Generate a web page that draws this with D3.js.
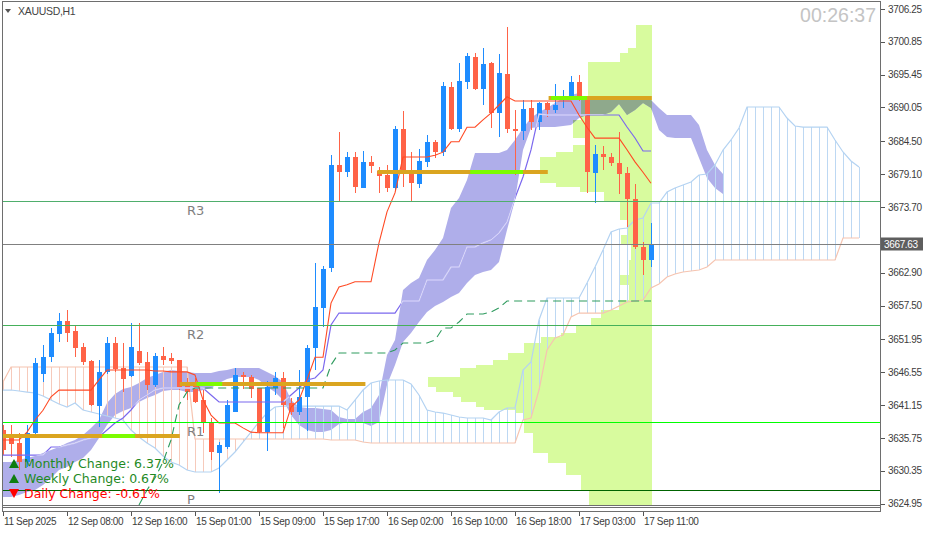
<!DOCTYPE html>
<html><head><meta charset="utf-8">
<script src="https://cdn.jsdelivr.net/npm/d3@7"></script>
<style>html,body{margin:0;padding:0;background:#fff;overflow:hidden}</style>
</head><body>
<svg id="c" width="926" height="533"></svg>
<script>
const symbol = "XAUUSD,H1";
const timer = "00:26:37";
const lastPrice = 3667.63;

const open = [3637.05,3636.07,3634.92,3631.79,3636.56,3646.25,3649.04,3652.82,3654.96,3653.32,
3650.69,3648.39,3640.99,3646.58,3651.35,3647.24,3645.92,3650.03,3648.22,3644.44,
3649.21,3648.88,3648.55,3644.28,3644.77,3641.98,3638.20,3633.27,3634.26,3640.01,
3646.09,3645.76,3643.95,3636.72,3643.95,3645.59,3641.49,3640.01,3642.47,3650.52,
3657.10,3663.67,3680.59,3679.44,3681.90,3676.81,3681.08,3679.60,3678.95,3676.81,
3686.51,3679.28,3677.47,3681.08,3684.37,3682.73,3693.41,3686.51,3694.23,3698.33,
3693.08,3697.35,3689.13,3695.54,3686.51,3686.18,3689.96,3687.66,3690.78,3689.63,
3691.43,3691.76,3694.23,3691.27,3679.28,3682.40,3681.90,3680.92,3679.28,3675.00,
3667.12,3664.98];
const high = [3637.87,3637.87,3636.56,3637.87,3648.88,3651.02,3653.81,3656.27,3656.77,3654.14,
3651.35,3648.55,3648.55,3652.33,3652.33,3651.35,3654.63,3654.63,3649.87,3649.70,
3650.69,3649.70,3648.60,3645.59,3645.59,3643.62,3639.02,3635.08,3641.98,3647.24,
3646.58,3646.09,3644.00,3645.10,3646.58,3646.58,3642.31,3646.91,3651.02,3664.49,
3664.00,3682.23,3686.01,3682.73,3682.73,3682.89,3682.07,3680.26,3680.59,3687.00,
3689.46,3682.73,3683.22,3685.52,3684.70,3694.23,3694.23,3697.35,3698.99,3698.99,
3699.81,3697.51,3698.83,3703.26,3689.63,3691.27,3691.27,3690.94,3690.94,3693.90,
3692.91,3695.21,3695.38,3691.93,3683.88,3683.71,3682.56,3686.01,3680.26,3677.47,
3667.94,3671.06];
const low = [3632.94,3632.61,3630.48,3630.97,3636.23,3644.94,3648.22,3651.51,3651.51,3649.04,
3647.73,3640.99,3637.54,3646.25,3646.58,3643.29,3645.76,3647.73,3643.62,3644.12,
3647.73,3647.90,3643.62,3641.98,3641.49,3636.56,3632.12,3626.70,3633.93,3640.01,
3643.79,3642.31,3636.56,3633.60,3642.80,3637.38,3639.52,3639.52,3636.89,3646.91,
3653.97,3663.01,3674.68,3678.62,3675.99,3676.81,3679.28,3675.99,3676.15,3676.48,
3676.98,3674.51,3676.81,3680.26,3681.74,3682.07,3686.34,3686.01,3693.08,3692.91,
3690.45,3686.67,3685.19,3685.85,3678.95,3684.70,3686.34,3686.34,3688.48,3689.13,
3689.96,3691.27,3691.10,3675.99,3674.35,3679.77,3680.43,3675.83,3670.40,3666.79,
3662.52,3663.83];
const close = [3633.76,3634.75,3631.79,3636.56,3648.06,3649.04,3652.99,3654.96,3652.99,3650.52,
3648.22,3641.16,3646.58,3651.35,3647.07,3645.43,3650.69,3648.06,3644.44,3649.21,
3648.55,3648.39,3644.12,3643.29,3641.65,3638.20,3633.44,3634.59,3641.16,3646.09,
3645.76,3643.79,3636.72,3644.12,3645.59,3641.16,3640.01,3642.47,3650.52,3657.26,
3663.50,3680.59,3679.44,3681.90,3676.98,3681.08,3680.43,3678.78,3676.81,3686.51,
3679.44,3677.63,3681.25,3684.37,3682.73,3693.57,3686.51,3694.39,3698.50,3693.08,
3697.18,3689.13,3695.71,3686.51,3686.18,3689.79,3687.66,3690.78,3689.63,3690.45,
3691.93,3694.23,3691.27,3679.44,3682.40,3681.90,3680.92,3679.11,3675.00,3667.12,
3664.98,3667.63];

const tenkan = [3635.4,3635.4,3635.4,3636.7,3638.7,3640.3,3642.5,3643.6,3643.6,3643.6,
3643.6,3643.6,3645.3,3646.9,3646.9,3646.9,3646.9,3646.9,3646.9,3646.75,
3646.75,3646.6,3646.6,3646.6,3646.1,3642.0,3639.5,3638.2,3638.2,3638.2,
3637.4,3636.7,3636.6,3636.6,3636.6,3636.6,3640.8,3642.0,3645.3,3649.0,
3649.0,3657.9,3660.55,3660.9,3661.4,3661.4,3661.4,3667.8,3672.9,3676.0,
3681.9,3681.9,3681.9,3681.9,3682.2,3682.7,3684.4,3684.4,3686.8,3686.8,
3688.0,3689.1,3690.45,3691.8,3691.1,3691.1,3691.1,3691.1,3691.1,3691.1,
3691.1,3691.1,3688.8,3686.8,3685.0,3685.0,3685.0,3685.0,3683.1,3681.1,
3679.4,3677.6];
const kijun = [3632.94,3632.94,3632.94,3632.94,3632.94,3632.94,3634.26,3634.26,3634.59,3634.92,
3635.41,3635.74,3635.90,3637.05,3638.20,3639.02,3640.34,3641.98,3642.80,3643.62,
3643.95,3643.95,3643.95,3643.95,3643.95,3643.95,3642.80,3641.65,3641.65,3641.65,
3641.65,3641.65,3641.65,3641.65,3641.65,3641.65,3642.80,3643.95,3645.27,3645.59,
3646.91,3654.30,3656.27,3656.27,3656.27,3656.27,3656.27,3656.27,3656.27,3656.27,
3658.25,3658.25,3658.25,3661.70,3661.70,3661.70,3663.83,3663.83,3667.12,3667.12,
3667.78,3668.27,3669.42,3671.23,3675.17,3678.62,3683.06,3688.97,3688.81,3688.81,
3688.81,3688.81,3688.81,3688.81,3688.81,3688.81,3688.81,3688.81,3686.83,3685.03,
3682.89,3682.89];
const spanA = [3643.62,3643.62,3643.46,3643.29,3643.13,3642.64,3641.98,3641.32,3640.83,3641.49,
3640.34,3640.01,3639.68,3639.35,3639.02,3638.69,3637.05,3635.90,3634.92,3634.09,
3632.78,3631.79,3631.30,3630.48,3630.15,3630.15,3630.15,3630.81,3632.12,3633.44,
3635.08,3636.72,3638.37,3639.84,3640.83,3640.99,3640.99,3640.99,3640.99,3640.99,
3640.99,3640.99,3640.99,3640.34,3641.98,3643.62,3644.77,3645.10,3645.27,3645.27,
3645.27,3644.61,3642.80,3640.34,3640.01,3639.84,3639.52,3639.19,3639.02,3639.02,
3639.02,3638.69,3640.01,3640.67,3640.67,3646.91,3648.22,3655.12,3658.74,3658.74,
3658.74,3658.74,3658.74,3661.20,3663.83,3666.62,3669.58,3670.08,3670.24,3671.55,
3671.88,3674.35,3674.35,3676.15,3676.81,3677.30,3677.80,3678.95,3679.11,3680.59,
3683.05,3684.70,3686.67,3690.12,3690.12,3690.12,3690.12,3690.12,3688.31,3687.00,
3686.83,3686.83,3686.83,3686.83,3684.70,3682.73,3681.25,3680.26];
const spanB = [3644.94,3647.40,3647.40,3647.40,3647.40,3647.40,3647.40,3647.40,3647.40,3647.40,
3647.40,3647.40,3647.40,3647.40,3647.40,3647.40,3647.40,3647.40,3647.40,3647.40,
3647.40,3647.40,3647.40,3647.40,3635.57,3635.57,3635.57,3635.57,3635.57,3635.57,
3635.57,3635.57,3635.57,3635.57,3635.57,3635.57,3635.57,3635.57,3635.57,3635.57,
3635.57,3635.41,3635.41,3635.41,3635.41,3635.08,3634.92,3634.92,3634.92,3634.92,
3634.92,3634.92,3634.92,3634.92,3634.92,3634.92,3634.92,3634.92,3634.92,3634.92,
3634.92,3634.92,3634.92,3634.92,3634.92,3638.69,3639.02,3643.62,3650.19,3652.17,
3652.66,3655.62,3656.27,3656.27,3656.27,3656.27,3656.77,3657.42,3658.08,3658.25,
3658.41,3660.38,3661.04,3662.19,3662.68,3663.01,3663.18,3663.34,3663.83,3664.98,
3664.98,3664.98,3664.98,3664.98,3664.98,3664.98,3664.98,3664.98,3664.98,3664.98,
3664.98,3664.98,3664.98,3664.98,3664.98,3668.60,3668.60,3668.60];
const bandUpper = [3631.79,3631.79,3632.12,3632.45,3632.78,3633.27,3633.76,3634.26,3634.92,3635.41,
3636.23,3637.38,3638.69,3641.49,3642.97,3643.79,3644.12,3644.77,3645.59,3646.09,
3646.58,3646.91,3646.74,3646.58,3646.42,3646.42,3646.42,3646.74,3646.91,3647.24,
3647.24,3647.24,3647.24,3646.58,3645.92,3644.94,3641.98,3640.83,3640.67,3640.67,
3640.50,3640.34,3639.19,3638.86,3638.86,3640.01,3640.67,3642.80,3649.37,3651.84,
3660.05,3661.20,3662.02,3664.98,3666.62,3668.60,3673.53,3675.17,3678.13,3682.56,
3682.56,3682.56,3682.56,3683.05,3684.70,3686.67,3688.31,3689.30,3689.96,3690.78,
3691.60,3692.09,3692.42,3691.27,3691.27,3691.27,3691.27,3691.27,3691.27,3691.27,
3691.27,3691.27,3689.96,3688.81,3688.81,3688.81,3688.81,3687.16,3683.05,3680.59,
3679.11];
const bandLower = [3626.04,3626.04,3626.37,3626.86,3627.19,3628.01,3629.16,3630.48,3630.97,3631.79,
3632.45,3633.76,3635.74,3637.87,3639.52,3640.17,3640.67,3641.65,3642.31,3642.80,
3643.46,3643.62,3643.62,3643.29,3643.29,3643.62,3643.95,3644.77,3645.43,3645.76,
3645.76,3645.76,3645.27,3644.12,3643.29,3641.98,3639.52,3637.87,3637.05,3636.72,
3636.72,3637.05,3638.04,3638.37,3638.37,3638.20,3637.71,3638.37,3644.44,3647.73,
3651.51,3652.99,3654.80,3656.44,3657.42,3658.08,3658.90,3659.56,3661.20,3662.52,
3663.01,3663.34,3664.65,3669.91,3674.84,3683.05,3686.67,3686.83,3686.83,3686.83,
3687.00,3687.16,3688.31,3688.81,3688.81,3688.81,3689.30,3690.61,3688.81,3689.63,
3690.78,3689.96,3686.34,3685.19,3685.03,3685.03,3685.03,3681.74,3678.45,3676.81,
3675.83];
const trailStart = 17;
const trail = [3624.73,3627.19,3629.16,3631.79,3635.41,3641.16,3643.29,
3643.95,3643.95,3643.95,3643.95,3643.95,3643.95,3643.95,3643.95,3643.95,3643.95,3643.95,3643.95,3643.95,3643.95,3643.95,3643.95,3643.95,
3647.73,3649.70,3649.70,3649.70,3649.70,3649.70,3649.70,3649.70,3650.19,
3651.35,3651.35,3651.35,3651.35,3651.84,3653.81,3653.81,3654.80,3656.11,3656.11,3656.11,3656.44,3657.10,
3658.25,3658.25,3658.25,3658.25,3658.25,3658.25,3658.25,3658.25,3658.25,3658.25,
3658.25,3658.25,3658.25,3658.25,3658.25,3658.25,3658.25,3658.25,3658.25];

const profileEdges = [3703.59,3699.81,3698.99,3697.51,3691.27,3687.98,3686.34,3685.03,3683.88,3682.73,
3681.90,3677.63,3676.98,3676.15,3674.51,3671.55,3669.09,3667.45,3664.98,3662.52,
3660.87,3658.41,3656.77,3655.45,3654.30,3652.99,3652.33,3651.35,3649.70,3648.55,
3647.73,3647.24,3645.76,3644.12,3643.29,3642.47,3641.65,3640.83,3640.34,3639.84,
3636.56,3633.27,3631.63,3629.66,3627.19,3624.73];
const profileVolume = [16,24,32,64,71,79,79,64,79,96,112,96,72,48,32,24,31,21,23,33,
23,33,51,61,76,91,111,128,144,159,176,192,224,216,199,191,176,168,136,128,119,104,86,71,63];

const levelStart = [-0.2, 22.1, 46.8, 68.2];
const levelEnd   = [22.1, 45.3, 68.1, 81.1];
const levelPrice = [3636.06, 3644.61, 3679.44, 3691.60];
const levelHiStart = [12.4, 24.2, 58.4, 68.5];
const levelHiEnd   = [16.5, 27.4, 65.0, 73.0];

const pivotNames  = ["R3","R2","R1","P"];
const pivotPrices = [3674.68, 3654.30, 3638.36, 3627.19];
const pivotColors = ["#4fae6c","#45b05a","#00ff00","#006400"];

// 3668.30 is hidden under the current-price box in the reference
const priceTicks = [3706.25,3700.85,3695.45,3690.05,3684.50,3679.10,3673.70,
3662.90,3657.50,3651.95,3646.55,3641.15,3635.75,3630.35,3624.95];
const timeLabels = ["11 Sep 2025","12 Sep 08:00","12 Sep 16:00","15 Sep 01:00","15 Sep 09:00",
"15 Sep 17:00","16 Sep 02:00","16 Sep 10:00","16 Sep 18:00","17 Sep 03:00","17 Sep 11:00"];
const timeLabelIndex = [0,8,16,24,32,40,48,56,64,72,80];

const changeLabels = ["Monthly Change: 6.37%","Weekly Change: 0.67%","Daily Change: -0.61%"];
const changeUp = [true,true,false];

// ---------- drawing ----------
const svg = d3.select("#c");
const L = 2, R = 880, T = 1, B = 505;
const x = d3.scaleLinear().domain([0, 1]).range([3, 11]);
const y = d3.scaleLinear().domain([3624.73, 3707.7]).range([505, 0]);
const n = close.length;

const defs = svg.append("defs");
defs.append("clipPath").attr("id","plotClip").append("rect")
  .attr("x",L+1).attr("y",T+1).attr("width",R-L-1).attr("height",B-T-1);

const profRight = x(n-1) + 1;
const vx = d3.scaleLinear().domain([0, d3.max(profileVolume)]).range([0, 224]);
const profRows = profileVolume.map((v,k)=>({top:profileEdges[k], bot:profileEdges[k+1], v}));

defs.append("clipPath").attr("id","profClip").selectAll("rect").data(profRows).join("rect")
  .attr("x",d=>profRight - vx(d.v)).attr("width",d=>vx(d.v))
  .attr("y",d=>y(d.top)).attr("height",d=>y(d.bot)-y(d.top));

const bandData = bandUpper.map((u,j)=>({j, u, l: bandLower[j]}));
const bandArea = d3.area().x(d=>x(d.j)).y0(d=>y(d.l)).y1(d=>y(d.u));
defs.append("clipPath").attr("id","bandClip").append("path").attr("d", bandArea(bandData));

const g = svg.append("g").attr("clip-path","url(#plotClip)");

// volume profile
g.append("g").selectAll("rect").data(profRows).join("rect")
  .attr("x",d=>profRight - vx(d.v)).attr("width",d=>vx(d.v))
  .attr("y",d=>y(d.top)).attr("height",d=>y(d.bot)-y(d.top))
  .attr("fill","#d8fb9e").attr("shape-rendering","crispEdges");

// purple band
g.append("path").attr("d", bandArea(bandData)).attr("fill","#afaeea");
g.append("path").attr("d", bandArea(bandData)).attr("fill","#8fa98c").attr("clip-path","url(#profClip)");

// ichimoku cloud hatch
const hatch = g.append("g").attr("shape-rendering","crispEdges");
spanA.forEach((a,j)=>{
  const b = spanB[j];
  hatch.append("line").attr("x1",x(j)+0.5).attr("x2",x(j)+0.5)
    .attr("y1",y(a)).attr("y2",y(b))
    .attr("stroke", a>=b ? "#bdd8f3" : "#f6cabb").attr("stroke-width",1);
});
const lineJ = d3.line().x((d,j)=>x(j)).y(d=>y(d));
g.append("path").attr("d", lineJ(spanB)).attr("fill","none").attr("stroke","#f6c4b0").attr("stroke-width",1.2);
g.append("path").attr("d", lineJ(spanA)).attr("fill","none").attr("stroke","#b4d3f2").attr("stroke-width",1.2);

// candles
const cg = g.append("g").attr("shape-rendering","crispEdges");
for (let i=0;i<n;i++){
  const up = close[i] >= open[i];
  const col = up ? "#1e8cff" : "#ff6347";
  const cx = x(i);
  cg.append("line").attr("x1",cx+0.5).attr("x2",cx+0.5).attr("y1",y(high[i])).attr("y2",y(low[i]))
    .attr("stroke",col).attr("stroke-width",1);
  const top = y(Math.max(open[i],close[i])), bot = y(Math.min(open[i],close[i]));
  cg.append("rect").attr("x",cx-2).attr("width",5).attr("y",top).attr("height",Math.max(1.5,bot-top)).attr("fill",col);
}

// kijun / tenkan
g.append("path").attr("d", lineJ(kijun)).attr("fill","none").attr("stroke","#7b68ee").attr("stroke-width",1.2);
g.append("path").attr("d", lineJ(kijun)).attr("fill","none").attr("stroke","#d6d6f6").attr("stroke-width",1.4).attr("clip-path","url(#bandClip)");
g.append("path").attr("d", lineJ(tenkan)).attr("fill","none").attr("stroke","#ff4a24").attr("stroke-width",1.1);

// trailing dashed line
const trailLine = d3.line().x((d,k)=>x(k+trailStart)).y(d=>y(d));
g.append("path").attr("d", trailLine(trail)).attr("fill","none").attr("stroke","#2e9b5e")
  .attr("stroke-width",1.1).attr("stroke-dasharray","8,5");

// daily level segments
levelPrice.forEach((p,k)=>{
  g.append("line").attr("x1",x(levelStart[k])).attr("x2",x(levelEnd[k])).attr("y1",y(p)).attr("y2",y(p))
    .attr("stroke","#daa520").attr("stroke-width",4);
  g.append("line").attr("x1",x(levelHiStart[k])).attr("x2",x(levelHiEnd[k])).attr("y1",y(p)).attr("y2",y(p))
    .attr("stroke","#7cfc00").attr("stroke-width",4);
});

// pivot lines + price line
const hl = g.append("g").attr("shape-rendering","crispEdges");
pivotPrices.forEach((p,k)=>{
  hl.append("line").attr("x1",L).attr("x2",R).attr("y1",Math.round(y(p))+0.5).attr("y2",Math.round(y(p))+0.5)
    .attr("stroke",pivotColors[k]).attr("stroke-width",1);
});
hl.append("line").attr("x1",L).attr("x2",R).attr("y1",Math.round(y(lastPrice))+0.5).attr("y2",Math.round(y(lastPrice))+0.5)
  .attr("stroke","#808080").attr("stroke-width",1);

pivotPrices.forEach((p,k)=>{
  g.append("text").attr("x",x(23)).attr("y",y(p)+14).text(pivotNames[k])
    .attr("font-family","DejaVu Sans, sans-serif").attr("font-size",13).attr("fill","#808080");
});

// legend
changeLabels.forEach((t,k)=>{
  const by = 468 + k*15;
  const col = changeUp[k] ? "#0f7d0f" : "#ff0000";
  const tri = changeUp[k]
    ? `M9,${by} L19,${by} L14,${by-9} Z`
    : `M9,${by-9} L19,${by-9} L14,${by} Z`;
  g.append("path").attr("d",tri).attr("fill",col);
  g.append("text").attr("x",24).attr("y",by).text(t)
    .attr("font-family","DejaVu Sans, sans-serif").attr("font-size",12.5)
    .attr("fill", changeUp[k] ? "#1f8a1f" : "#ff0000");
});

// title & timer
svg.append("path").attr("d","M5,9 L11,9 L8,13 Z").attr("fill","#555");
svg.append("text").attr("x",18).attr("y",15).text(symbol)
  .attr("font-family","Liberation Sans, Arial, sans-serif").attr("font-size",10.5).attr("letter-spacing",-0.3).attr("fill","#444");
svg.append("text").attr("x",876).attr("y",22).attr("text-anchor","end").text(timer)
  .attr("font-family","Liberation Sans, Arial, sans-serif").attr("font-size",19.5).attr("fill","#c4c4c4");

// frame
const fr = svg.append("g").attr("shape-rendering","crispEdges").attr("stroke","#6e6e6e").attr("fill","none");
fr.append("line").attr("x1",L+0.5).attr("x2",L+0.5).attr("y1",T).attr("y2",512);
fr.append("line").attr("x1",L).attr("x2",R).attr("y1",T+0.5).attr("y2",T+0.5);
fr.append("line").attr("x1",R+0.5).attr("x2",R+0.5).attr("y1",T).attr("y2",512);
fr.append("line").attr("x1",L).attr("x2",R).attr("y1",B+0.5).attr("y2",B+0.5);
fr.append("rect").attr("x",L+0.5).attr("y",507.5).attr("width",R-L).attr("height",4);

// price axis
const ya = svg.append("g").attr("transform",`translate(${R+1},0)`)
  .call(d3.axisRight(y).tickValues(priceTicks).tickSize(4).tickPadding(3).tickFormat(d3.format(".2f")));
ya.select(".domain").remove();
ya.selectAll("line").attr("stroke","#555").attr("shape-rendering","crispEdges");
ya.selectAll("text").attr("font-family","Liberation Sans, Arial, sans-serif").attr("font-size",10)
  .attr("letter-spacing",-0.35).attr("fill","#3c3c3c");

// price box
svg.append("rect").attr("x",R+1).attr("y",Math.round(y(lastPrice))-6.5).attr("width",42).attr("height",13).attr("fill","#5e5e5e");
svg.append("text").attr("x",R+4).attr("y",y(lastPrice)+4).text(d3.format(".2f")(lastPrice))
  .attr("font-family","Liberation Sans, Arial, sans-serif").attr("font-size",10).attr("letter-spacing",-0.35).attr("fill","#fff");

// time axis
const ta = svg.append("g");
timeLabelIndex.forEach((idx,k)=>{
  ta.append("line").attr("x1",x(idx)+0.5).attr("x2",x(idx)+0.5).attr("y1",512).attr("y2",516)
    .attr("stroke","#555").attr("shape-rendering","crispEdges");
  ta.append("text").attr("x",x(idx)+1).attr("y",525).text(timeLabels[k])
    .attr("font-family","Liberation Sans, Arial, sans-serif").attr("font-size",10).attr("letter-spacing",-0.35).attr("fill","#3c3c3c");
});
</script>
</body></html>
